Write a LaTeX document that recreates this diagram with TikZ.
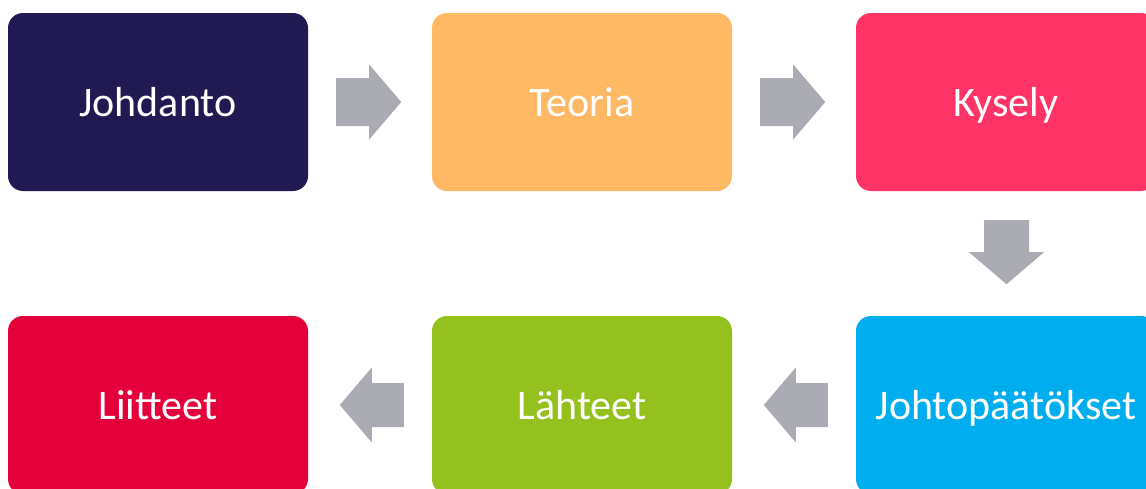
\documentclass[tikz,border=0pt]{standalone}
\usepackage{fontspec}
\setmainfont{Carlito}
\usetikzlibrary{calc}
\definecolor{cNavy}{HTML}{211A52}
\definecolor{cOrange}{HTML}{FFB864}
\definecolor{cPink}{HTML}{FF3366}
\definecolor{cBlue}{HTML}{00ADEE}
\definecolor{cGreen}{HTML}{95C11F}
\definecolor{cRed}{HTML}{E4003B}
\definecolor{cArrow}{HTML}{ABABB3}
\begin{document}
\begin{tikzpicture}[x=1pt,y=-1pt,
  stepbox/.style={rectangle, rounded corners=15pt, minimum width=300pt, minimum height=178pt,
    inner sep=0pt, text=white, font=\fontsize{42}{50}\selectfont, text height=28pt, text depth=0pt},
  blockarrow/.style={fill=cArrow}]
\useasboundingbox (0,0) rectangle (1146,488);
\clip (0,0) rectangle (1146,488);
\node[stepbox, fill=cNavy]   (johd) at (158,102) {Johdanto};
\node[stepbox, fill=cOrange] (teo)  at (582,102) {Teoria};
\node[stepbox, fill=cPink]   (kys)  at (1006,102) {Kysely};
\node[stepbox, fill=cBlue]   (joht) at (1006,405) {Johtopäätökset};
\node[stepbox, fill=cGreen]  (lah)  at (582,405) {Lähteet};
\node[stepbox, fill=cRed]    (liit) at (158,405) {Liitteet};
% right arrows
\foreach \a in {johd,teo}{
  \coordinate (s) at ($(\a.east)+(28,0)$);
  \fill[blockarrow] ($(s)+(0,-24)$) -- ($(s)+(33,-24)$) -- ($(s)+(33,-37.5)$) -- ($(s)+(65,0)$)
    -- ($(s)+(33,37.5)$) -- ($(s)+(33,24)$) -- ($(s)+(0,24)$) -- cycle;
}
% down arrow
\coordinate (d) at ($(kys.south)+(0.5,29)$);
\fill[blockarrow] ($(d)+(-22.5,0)$) -- ($(d)+(22.5,0)$) -- ($(d)+(22.5,32)$) -- ($(d)+(37.5,32)$)
  -- ($(d)+(0,64)$) -- ($(d)+(-37.5,32)$) -- ($(d)+(-22.5,32)$) -- cycle;
% left arrows
\foreach \a in {joht,lah}{
  \coordinate (s) at ($(\a.west)+(-28,0)$);
  \fill[blockarrow] ($(s)+(0,-22)$) -- ($(s)+(-32,-22)$) -- ($(s)+(-32,-37.5)$) -- ($(s)+(-64,0)$)
    -- ($(s)+(-32,37.5)$) -- ($(s)+(-32,22)$) -- ($(s)+(0,22)$) -- cycle;
}
\end{tikzpicture}
\end{document}
